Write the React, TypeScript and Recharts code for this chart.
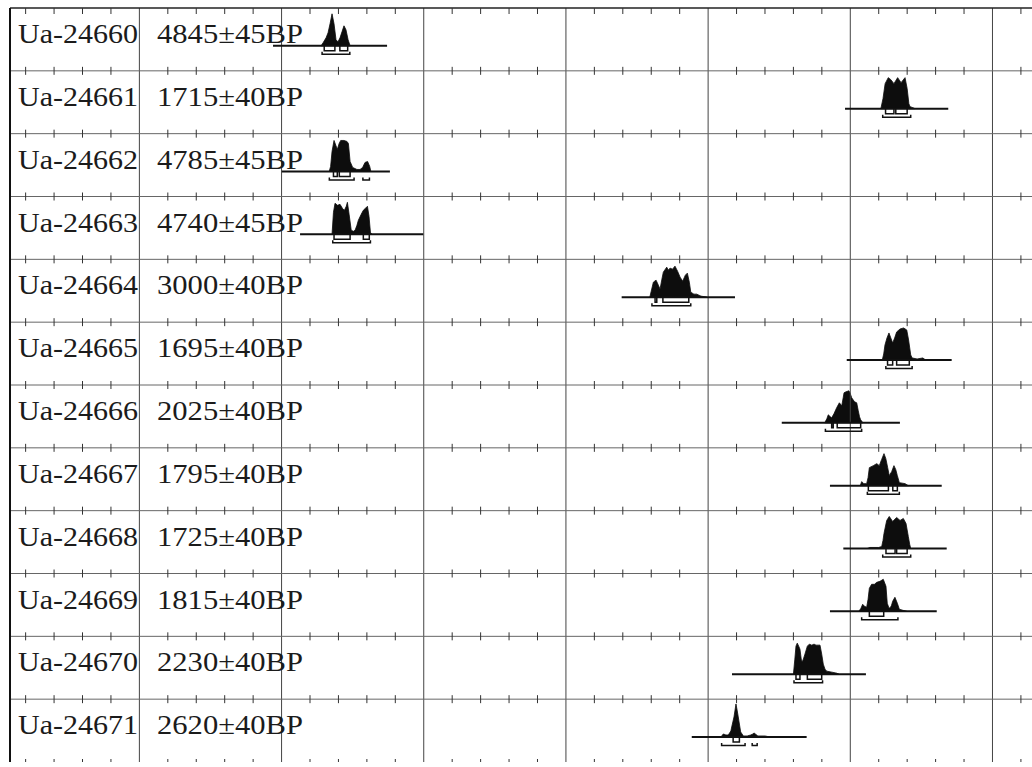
import { ComposedChart, XAxis, YAxis, Area, Line, Scatter, ReferenceLine } from 'recharts';

// Calibrated age axis in calendar years (negative = BC)
const X_DOMAIN: [number, number] = [-5910, 1278];
const ROWS = 12;
const ROW_PX = 754 / ROWS;

const labCodes = [
  'Ua-24660', 'Ua-24661', 'Ua-24662', 'Ua-24663', 'Ua-24664', 'Ua-24665',
  'Ua-24666', 'Ua-24667', 'Ua-24668', 'Ua-24669', 'Ua-24670', 'Ua-24671',
];

const bpDates = [
  '4845±45BP', '1715±40BP', '4785±45BP', '4740±45BP', '3000±40BP', '1695±40BP',
  '2025±40BP', '1795±40BP', '1725±40BP', '1815±40BP', '2230±40BP', '2620±40BP',
];

const majorYears = [-5000, -4000, -3000, -2000, -1000, 0, 1000];
const minorYears = [
  -5800, -5600, -5400, -5200, -4800, -4600, -4400, -4200, -3800, -3600, -3400, -3200,
  -2800, -2600, -2400, -2200, -1800, -1600, -1400, -1200, -800, -600, -400, -200,
  200, 400, 600, 800, 1200,
];

// probability curves: [cal year, height in px]
const prob24660 = [[-3722, 0], [-3708, 3], [-3687, 8], [-3673, 13], [-3659, 22], [-3645, 32], [-3631, 22], [-3617, 6], [-3603, 4], [-3589, 8], [-3575, 14], [-3561, 20], [-3547, 16], [-3532, 6], [-3518, 0]];
const prob24661 = [[215, 0], [230, 10], [245, 25], [267, 31], [285, 29], [307, 25], [333, 31], [357, 26], [385, 31], [400, 20], [412, 5], [420, 2], [440, 1], [455, 0]];
const prob24662 = [[-3665, 0], [-3655, 5], [-3645, 20], [-3631, 31], [-3618, 26], [-3608, 22], [-3595, 28], [-3584, 31], [-3561, 31], [-3540, 30], [-3530, 28], [-3518, 10], [-3500, 4], [-3470, 2], [-3448, 2], [-3430, 4], [-3413, 9], [-3395, 10], [-3380, 5], [-3372, 0]];
const prob24663 = [[-3645, 0], [-3635, 22], [-3624, 31], [-3606, 29], [-3589, 30], [-3572, 26], [-3558, 24], [-3545, 28], [-3537, 32], [-3525, 20], [-3510, 4], [-3495, 3], [-3483, 4], [-3470, 9], [-3460, 14], [-3440, 20], [-3425, 24], [-3410, 26], [-3396, 28], [-3385, 18], [-3375, 2], [-3365, 0]];
const prob24664 = [[-1410, 0], [-1400, 6], [-1385, 15], [-1366, 17], [-1350, 12], [-1338, 8], [-1325, 18], [-1315, 25], [-1291, 30], [-1280, 27], [-1268, 29], [-1250, 28], [-1233, 31], [-1215, 26], [-1197, 20], [-1179, 16], [-1160, 22], [-1146, 24], [-1132, 15], [-1122, 5], [-1100, 3], [-1080, 3], [-1050, 1], [-1010, 0]];
const prob24665 = [[225, 0], [235, 6], [244, 15], [258, 22], [272, 27], [285, 22], [298, 17], [312, 22], [326, 28], [350, 31], [375, 32], [397, 30], [410, 20], [425, 5], [435, 2], [470, 1], [510, 2], [530, 0]];
const prob24666 = [[-180, 0], [-165, 4], [-155, 8], [-140, 6], [-131, 5], [-115, 9], [-96, 15], [-77, 20], [-60, 17], [-50, 25], [-44, 30], [-30, 31], [-10, 32], [-2, 30], [10, 25], [30, 21], [45, 20], [56, 12], [65, 6], [73, 3], [89, 0]];
const prob24667 = [[70, 0], [80, 4], [95, 2], [115, 2], [125, 8], [134, 18], [162, 20], [186, 22], [204, 20], [220, 26], [237, 32], [250, 27], [263, 18], [274, 10], [291, 14], [307, 20], [320, 16], [331, 10], [345, 3], [385, 2], [408, 0]];
const prob24668 = [[120, 0], [138, 1], [200, 1], [221, 2], [230, 8], [237, 15], [256, 28], [274, 32], [298, 27], [326, 31], [350, 28], [373, 30], [392, 25], [408, 12], [418, 4], [425, 0]];
const prob24669 = [[60, 0], [75, 3], [87, 7], [100, 5], [115, 4], [125, 12], [134, 23], [150, 27], [170, 27], [186, 29], [209, 30], [232, 32], [251, 25], [260, 8], [270, 4], [279, 3], [290, 6], [298, 10], [314, 14], [331, 8], [345, 2], [370, 1], [397, 0]];
const prob24670 = [[-400, 0], [-390, 15], [-382, 28], [-373, 31], [-363, 28], [-354, 25], [-345, 15], [-338, 12], [-328, 16], [-319, 20], [-302, 28], [-288, 30], [-271, 29], [-255, 30], [-241, 29], [-213, 29], [-201, 20], [-190, 10], [-178, 5], [-166, 3], [-130, 2], [-96, 1], [-80, 0]];
const prob24671 = [[-910, 0], [-893, 3], [-875, 2], [-858, 2], [-840, 6], [-834, 10], [-818, 20], [-804, 33], [-795, 26], [-788, 20], [-771, 5], [-752, 1], [-725, 1], [-700, 2], [-685, 3], [-677, 4], [-668, 3], [-650, 1], [-635, 1], [-600, 1], [-565, 0]];

const probCurves = [
  prob24660, prob24661, prob24662, prob24663, prob24664, prob24665,
  prob24666, prob24667, prob24668, prob24669, prob24670, prob24671,
];

// extent of the horizontal line under each curve
const curveSpan = [
  [-4060, -3258], [-37, 689], [-3998, -3238], [-3870, -3003], [-1608, -811], [-25, 713],
  [-482, 349], [-143, 643], [-49, 678], [-143, 608], [-832, 110], [-1115, -307],
];

// 68.2% ranges
const oneSigma = [
  [[-3700, -3625], [-3590, -3535]],
  [[248, 307], [320, 400]],
  [[-3635, -3608], [-3594, -3518]],
  [[-3631, -3518], [-3425, -3383]],
  [[-1373, -1361], [-1318, -1136]],
  [[262, 298], [326, 415]],
  [[-131, -120], [-92, 73]],
  [[127, 268], [299, 331]],
  [[251, 315], [326, 400]],
  [[134, 235]],
  [[-382, -354], [-302, -201]],
  [[-824, -780]],
];

// 95.4% ranges
const twoSigma = [
  [[-3715, -3520]],
  [[228, 425]],
  [[-3664, -3490], [-3428, -3382]],
  [[-3640, -3375]],
  [[-1395, -1122]],
  [[250, 435]],
  [[-175, 80]],
  [[120, 345]],
  [[228, 425]],
  [[80, 335]],
  [[-396, -195]],
  [[-905, -740], [-690, -655]],
];

const px = (p: number) => p / ROW_PX;
const rowBase = (i: number) => i + px(37.8);

const bracket = (row: number, a: number, b: number, top: number, bottom: number) => [
  { x: a, y: rowBase(row) + px(top) },
  { x: a, y: rowBase(row) + px(bottom) },
  { x: b, y: rowBase(row) + px(bottom) },
  { x: b, y: rowBase(row) + px(top) },
];

const rowIdx = labCodes.map((_, i) => i);
const labelTicks = rowIdx.map((i) => i + px(35));
const boundaries = [0, 1, 2, 3, 4, 5, 6, 7, 8, 9, 10, 11, 12];
const tickMarks = boundaries.flatMap((b) => minorYears.map((x) => ({ x, y: b })));

const labelStyle = { fontFamily: "'Liberation Serif', 'Times New Roman', serif", fontSize: 27 };

function RowLabel({ y, payload }: any) {
  const i = Math.round(payload.value - px(35));
  return (
    <g fill="#1b1b1b" style={labelStyle}>
      <text x={18} y={y} textLength={120} lengthAdjust="spacingAndGlyphs">{labCodes[i]}</text>
      <text x={157} y={y} textLength={146} lengthAdjust="spacingAndGlyphs">{bpDates[i]}</text>
    </g>
  );
}

function TickMark({ cx, cy, payload }: any) {
  let y1 = cy - 4;
  let y2 = cy + 4;
  if (payload.y === 0) { y1 = cy; y2 = cy + 6; }
  if (payload.y === ROWS) { y1 = cy - 3; y2 = cy + 6; }
  return <line x1={cx} x2={cx} y1={y1} y2={y2} stroke="#333" strokeWidth={1} />;
}

export default function App() {
  return (
    <div style={{ position: 'absolute', left: 0, top: 0, width: 1032, height: 767, background: '#fff', overflow: 'hidden' }}>
      <ComposedChart width={1032} height={767} margin={{ top: 8, right: 0, bottom: 5, left: 0 }}>
        <XAxis type="number" dataKey="x" domain={X_DOMAIN} allowDataOverflow hide />
        <YAxis
          type="number"
          domain={[0, ROWS]}
          reversed
          width={10}
          ticks={labelTicks}
          interval={0}
          tick={<RowLabel />}
          tickLine={false}
          axisLine={{ stroke: '#111', strokeWidth: 2 }}
          allowDataOverflow
        />

        {majorYears.map((yr) => (
          <ReferenceLine key={`v${yr}`} x={yr} stroke="#444" strokeWidth={1} />
        ))}
        {boundaries.slice(0, ROWS).map((b) => (
          <ReferenceLine key={`h${b}`} y={b} stroke={b === 0 ? '#222' : '#666'} strokeWidth={b === 0 ? 1.5 : 1} />
        ))}

        <Scatter data={tickMarks} dataKey="y" shape={<TickMark />} isAnimationActive={false} />

        {probCurves.map((curve, i) => (
          <Area
            key={`p${i}`}
            data={curve.map(([x, h]) => ({ x, band: [rowBase(i), rowBase(i) - px(h)] }))}
            dataKey="band"
            type="linear"
            fill="#0d0d0d"
            fillOpacity={1}
            stroke="#0d0d0d"
            strokeWidth={0.8}
            dot={false}
            activeDot={false}
            isAnimationActive={false}
          />
        ))}

        {curveSpan.map(([a, b], i) => (
          <Line
            key={`s${i}`}
            data={[{ x: a, y: rowBase(i) }, { x: b, y: rowBase(i) }]}
            dataKey="y"
            stroke="#111"
            strokeWidth={2}
            dot={false}
            activeDot={false}
            isAnimationActive={false}
          />
        ))}

        {oneSigma.flatMap((ranges, i) =>
          ranges.map(([a, b], k) => (
            <Line
              key={`o${i}-${k}`}
              data={bracket(i, a, b, 0, 5)}
              dataKey="y"
              stroke="#111"
              strokeWidth={1.5}
              dot={false}
              activeDot={false}
              isAnimationActive={false}
            />
          )),
        )}

        {twoSigma.flatMap((ranges, i) =>
          ranges.map(([a, b], k) => (
            <Line
              key={`t${i}-${k}`}
              data={bracket(i, a, b, 6, 8.5)}
              dataKey="y"
              stroke="#111"
              strokeWidth={1.5}
              dot={false}
              activeDot={false}
              isAnimationActive={false}
            />
          )),
        )}
      </ComposedChart>
    </div>
  );
}
